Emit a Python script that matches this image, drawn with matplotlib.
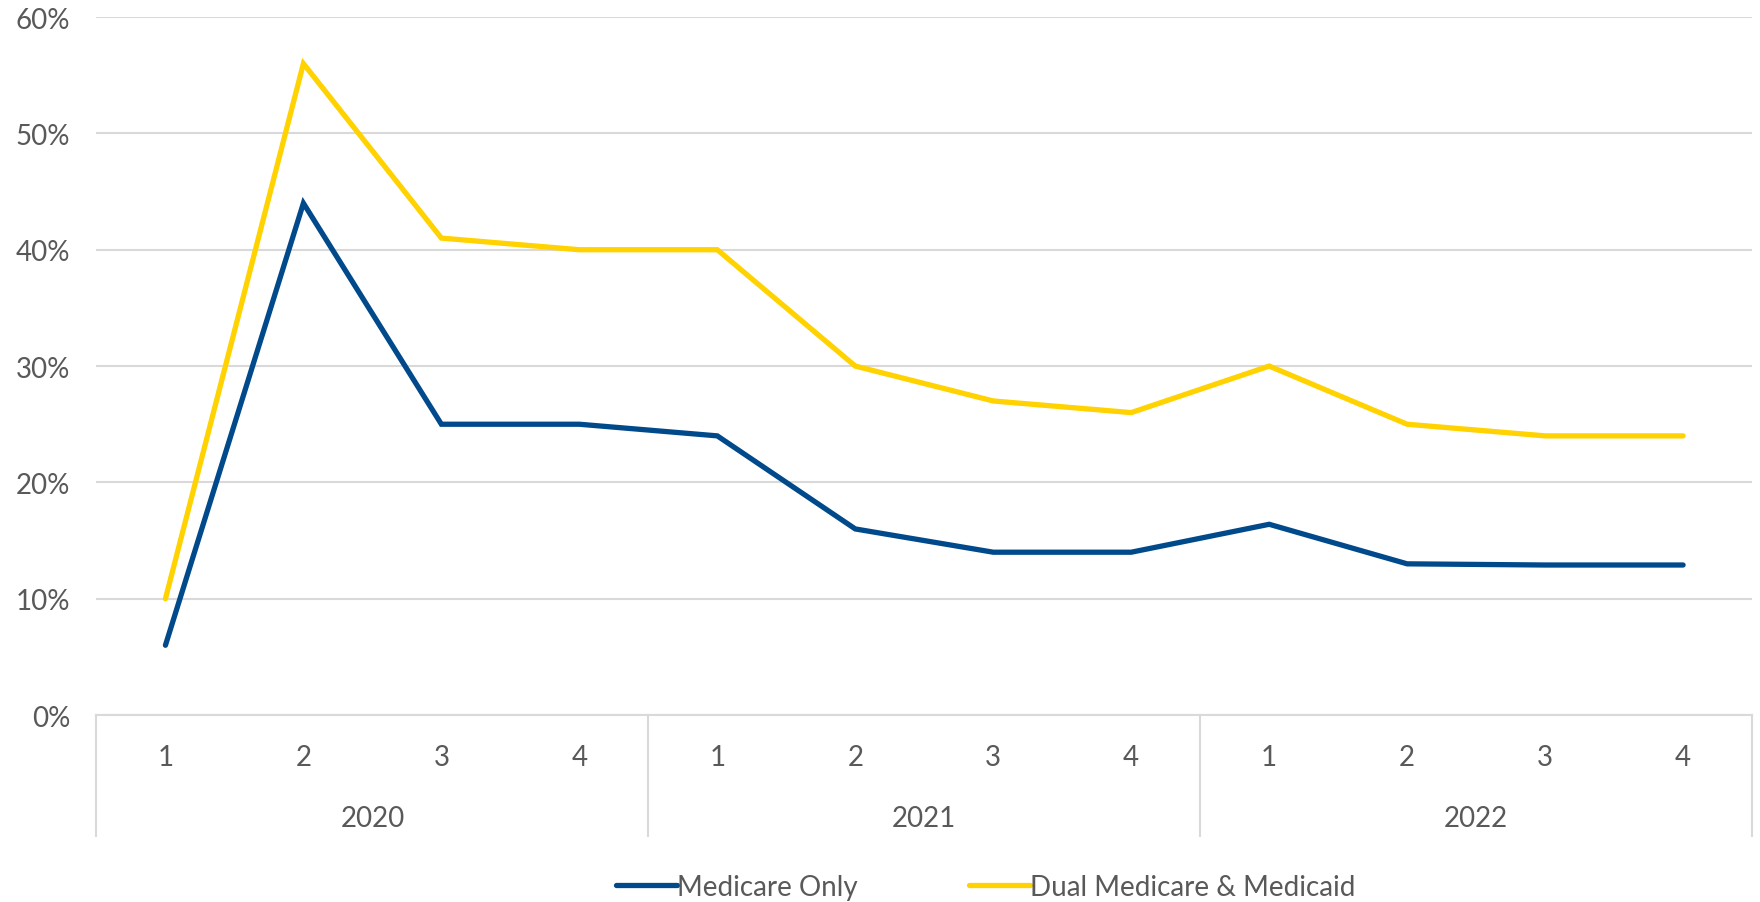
import matplotlib.pyplot as plt
import matplotlib.transforms as mtransforms
from matplotlib.ticker import PercentFormatter

plt.rcParams['font.family'] = ['Lato', 'DejaVu Sans']

years = ['2020', '2021', '2022']
quarters = ['1', '2', '3', '4'] * 3
medicare_only = [6, 44, 25, 25, 24, 16, 14, 14, 16.4, 13, 12.9, 12.9]
dual = [10, 56, 41, 40, 40, 30, 27, 26, 30, 25, 24, 24]

text_color = '#595959'
grid_color = '#d9d9d9'
fs = 20

fig = plt.figure(figsize=(17.6, 9.03), dpi=100)
ax = fig.add_axes([0.0548, 0.207, 0.9407, 0.773])

x = list(range(len(quarters)))
ax.plot(x, medicare_only, color='#004a8c', linewidth=3.8, label='Medicare Only',
        solid_capstyle='round', solid_joinstyle='miter')
ax.plot(x, dual, color='#ffd200', linewidth=3.8, label='Dual Medicare & Medicaid',
        solid_capstyle='round', solid_joinstyle='miter')

ax.set_xlim(-0.5, len(x) - 0.5)
ax.set_ylim(0, 60)
ax.set_yticks(range(0, 61, 10))
ax.yaxis.set_major_formatter(PercentFormatter(decimals=0))
ax.grid(axis='y', color=grid_color, linewidth=1.5)
ax.set_axisbelow(True)
for s in ['top', 'right', 'left']:
    ax.spines[s].set_visible(False)
ax.spines['bottom'].set_color(grid_color)
ax.spines['bottom'].set_linewidth(1.5)
ax.tick_params(axis='y', length=0, labelsize=fs, labelcolor=text_color, pad=19)
ax.set_xticks(x)
ax.set_xticklabels(quarters)
ax.tick_params(axis='x', length=0, labelsize=fs, labelcolor=text_color, pad=21)

# year labels and group separators
trans = mtransforms.blended_transform_factory(ax.transData, ax.transAxes)
for i, yr in enumerate(years):
    ax.text(i * 4 + 1.5, -0.148, yr, transform=trans, ha='center', va='center',
            fontsize=fs, color=text_color)
for b in [-0.5, 3.5, 7.5, 11.5]:
    ax.plot([b, b], [0, -0.173], transform=trans, color=grid_color,
            linewidth=1.5, clip_on=False)

fig.legend(loc='center', bbox_to_anchor=(0.56, 0.017), ncol=2, frameon=False,
           fontsize=fs, labelcolor=text_color, handlelength=2.2, handletextpad=0.0,
           columnspacing=4.0)

fig.savefig('out.png', dpi=100, facecolor='white')
